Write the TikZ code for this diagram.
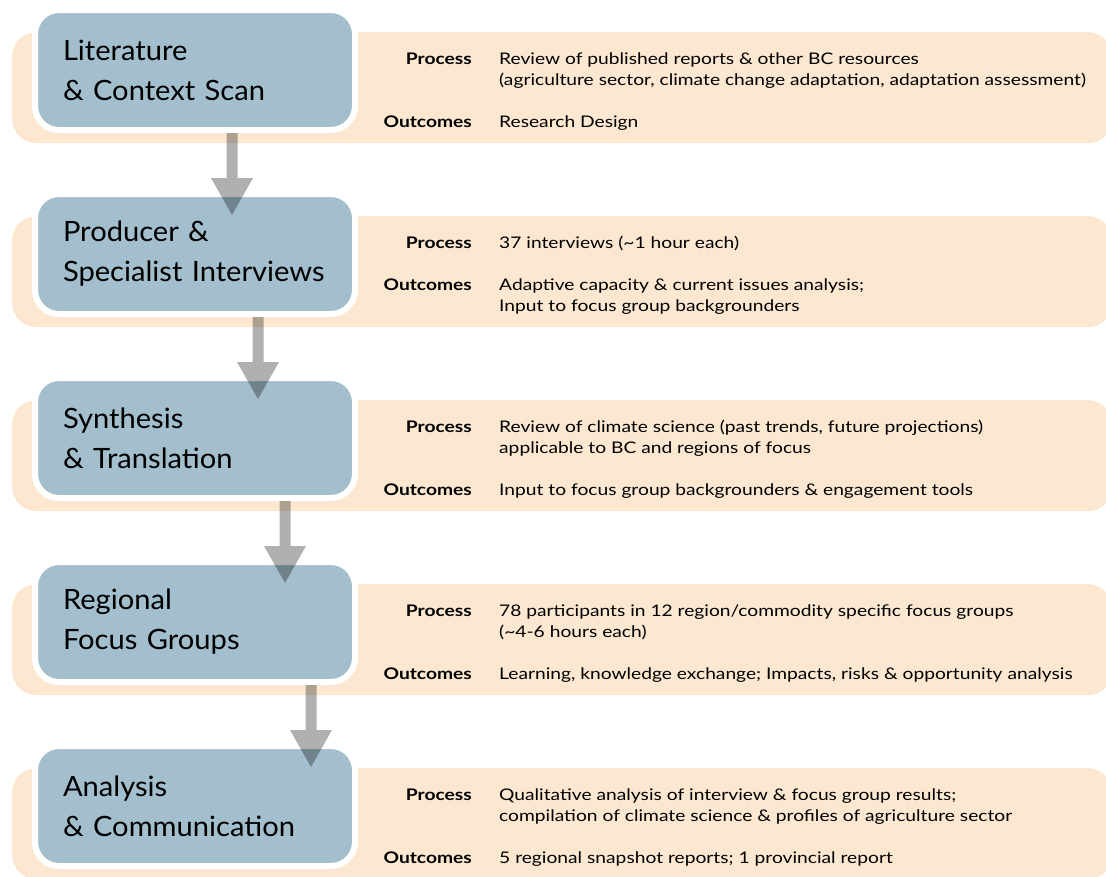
\documentclass[tikz,border=0pt]{standalone}
\usepackage{fontspec}
\setmainfont{Lato}
\newfontfamily\detailfont{Lato}[FakeStretch=1.2]
\newfontfamily\stagefont{Lato}[FakeStretch=1.04]
\usetikzlibrary{arrows.meta}

\definecolor{stageblue}{RGB}{163,191,205}
\definecolor{infopeach}{RGB}{252,232,209}

\tikzset{
    stage/.style = {anchor=north west, rounded corners=24pt, fill=stageblue, draw=white,
                    line width=6pt, minimum width=320pt, minimum height=120pt,
                    inner xsep=28pt, text width=264pt, align=left,
                    font=\stagefont\fontsize{28}{40}\selectfont},
    info/.style = {anchor=north west, rounded corners=24pt, fill=infopeach,
                   minimum width=1100pt, minimum height=111pt},
    heading/.style = {anchor=base east, inner sep=0pt, font=\detailfont\fontsize{16}{21}\selectfont\bfseries},
    detail/.style = {anchor=base west, inner sep=0pt, align=left, font=\detailfont\fontsize{16}{21}\selectfont},
    flow/.style = {line width=11pt, black, -{Triangle[width=42pt, length=37pt, line width=0pt]}}
}

\begin{document}
\begin{tikzpicture}[x=1pt, y=-1pt]
    \useasboundingbox (0,0) rectangle (1106,876);

    % peach panels behind
    \node[info] (litinfo) at (12, 32) {};
    \node[info] (prodinfo) at (12, 216) {};
    \node[info] (synthinfo) at (12, 400) {};
    \node[info] (focusinfo) at (12, 584) {};
    \node[info] (anainfo) at (12, 768) {};

    % stages
    \node[stage] (lit) at (32, 7) {Literature\\\& Context Scan};
    \node[stage] (prod) at (32, 191) {Producer \&\\Specialist Interviews};
    \node[stage] (synth) at (32, 375) {Synthesis\\\& Translation};
    \node[stage] (focus) at (32, 559) {Regional\\Focus Groups};
    \node[stage] (ana) at (32, 743) {Analysis\\\& Communication};

    % process / outcomes (multi-line texts sit on their last line)
    \node[heading] (litp) at (472, 64) {Process};
    \node[detail] (litpt) at (499, 85) {Review of published reports \& other BC resources\\(agriculture sector, climate change adaptation, adaptation assessment)};
    \node[heading] (lito) at (472, 127) {Outcomes};
    \node[detail] (litot) at (499, 127) {Research Design};

    \node[heading] (prodp) at (472, 248) {Process};
    \node[detail] (prodpt) at (499, 248) {37 interviews (\textasciitilde1 hour each)};
    \node[heading] (prodo) at (472, 290) {Outcomes};
    \node[detail] (prodot) at (499, 311) {Adaptive capacity \& current issues analysis;\\Input to focus group backgrounders};

    \node[heading] (synthp) at (472, 432) {Process};
    \node[detail] (synthpt) at (499, 453) {Review of climate science (past trends, future projections)\\applicable to BC and regions of focus};
    \node[heading] (syntho) at (472, 495) {Outcomes};
    \node[detail] (synthot) at (499, 495) {Input to focus group backgrounders \& engagement tools};

    \node[heading] (focusp) at (472, 616) {Process};
    \node[detail] (focuspt) at (499, 637) {78 participants in 12 region/commodity specific focus groups\\(\textasciitilde4-6 hours each)};
    \node[heading] (focuso) at (472, 679) {Outcomes};
    \node[detail] (focusot) at (499, 679) {Learning, knowledge exchange; Impacts, risks \& opportunity analysis};

    \node[heading] (anap) at (472, 800) {Process};
    \node[detail] (anapt) at (499, 821) {Qualitative analysis of interview \& focus group results;\\compilation of climate science \& profiles of agriculture sector};
    \node[heading] (anao) at (472, 863) {Outcomes};
    \node[detail] (anaot) at (499, 863) {5 regional snapshot reports; 1 provincial report};

    % arrows
    \begin{scope}[transparency group, opacity=0.31]
        \draw[flow] ([xshift=37pt]lit.south) -- ([xshift=37pt, yshift=-24pt]prod.north);
        \draw[flow] ([xshift=63pt]prod.south) -- ([xshift=63pt, yshift=-24pt]synth.north);
        \draw[flow] ([xshift=90pt]synth.south) -- ([xshift=90pt, yshift=-24pt]focus.north);
        \draw[flow] ([xshift=116pt]focus.south) -- ([xshift=116pt, yshift=-24pt]ana.north);
    \end{scope}
\end{tikzpicture}
\end{document}
